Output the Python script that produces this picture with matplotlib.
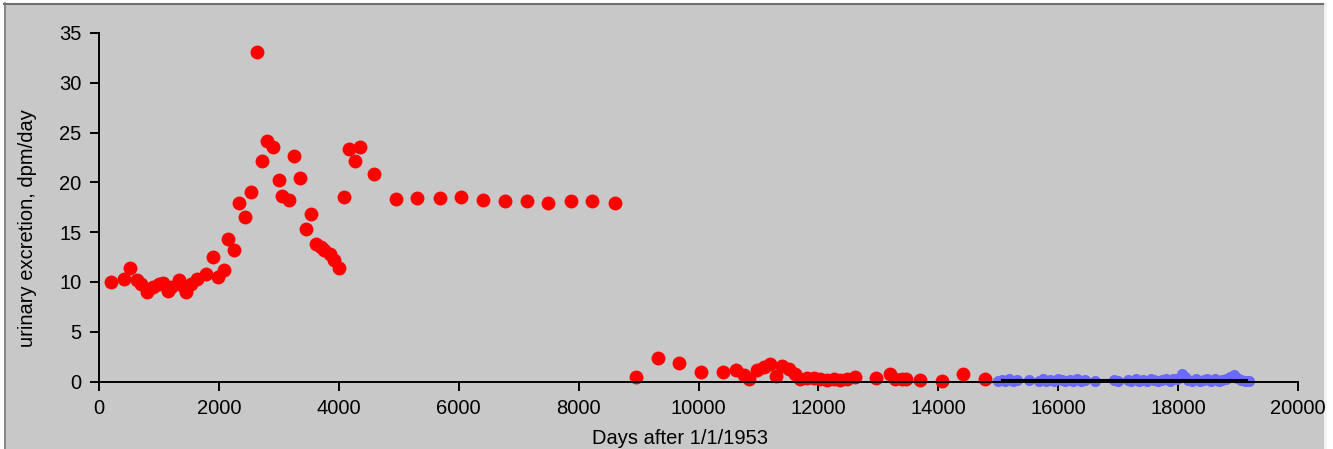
import matplotlib
matplotlib.use("Agg")
import matplotlib.pyplot as plt
from matplotlib.patches import Rectangle
from matplotlib.lines import Line2D

plt.rcParams['font.family'] = ['Liberation Sans', 'DejaVu Sans']

# red series: days after 1/1/1953, urinary excretion (dpm/day)
red_days = [200, 420, 520, 640, 700, 800, 900, 1000, 1060, 1150, 1200, 1340, 1400,
            1450, 1530, 1640, 1780, 1900, 1980, 2090, 2150, 2250, 2340, 2430, 2530,
            2630, 2720, 2810, 2900, 3000, 3060, 3170, 3255, 3355, 3450, 3530, 3620,
            3700, 3760, 3850, 3920, 4005, 4090, 4170, 4270, 4355, 4580,
            4950, 5310, 5680, 6045, 6410, 6770, 7145, 7495, 7865, 8230, 8600,
            8950, 9320, 9680, 10045, 10410, 10630, 10755, 10840, 10980, 11090,
            11200, 11285, 11395, 11505, 11615, 11700, 11810, 11920, 12035, 12145,
            12255, 12365, 12480, 12615, 12965, 13200, 13285, 13395, 13465, 13690,
            14060, 14420, 14785]
red_vals = [10.0, 10.3, 11.4, 10.2, 9.8, 9.0, 9.5, 9.8, 9.9, 9.1, 9.5, 10.2, 9.6,
            9.0, 9.8, 10.3, 10.8, 12.5, 10.5, 11.2, 14.3, 13.2, 17.9, 16.5, 19.0,
            33.1, 22.1, 24.2, 23.6, 20.2, 18.6, 18.2, 22.6, 20.4, 15.3, 16.8, 13.8,
            13.5, 13.2, 12.8, 12.2, 11.4, 18.5, 23.4, 22.1, 23.6, 20.8,
            18.3, 18.4, 18.4, 18.5, 18.2, 18.1, 18.1, 17.9, 18.1, 18.1, 17.9,
            0.5, 2.4, 1.9, 1.0, 1.0, 1.2, 0.7, 0.3, 1.2, 1.5,
            1.8, 0.6, 1.6, 1.3, 0.8, 0.3, 0.4, 0.4, 0.3, 0.2,
            0.3, 0.2, 0.3, 0.5, 0.4, 0.8, 0.3, 0.3, 0.3, 0.2,
            0.1, 0.8, 0.3]

# blue series
blue_days = [15000, 15060, 15120, 15180, 15250, 15320, 15520, 15680, 15740, 15800,
             15870, 15930, 16000, 16060, 16120, 16190, 16250, 16320, 16380, 16450,
             16620, 16930, 16990, 17160, 17220, 17290, 17350, 17410, 17480, 17540,
             17600, 17670, 17730, 17790, 17860, 17920, 17980, 18060, 18110, 18170,
             18240, 18300, 18360, 18430, 18490, 18550, 18620, 18680, 18740, 18800,
             18870, 18930, 18980, 19050, 19120, 19190]
blue_vals = [0.1, 0.2, 0.05, 0.25, 0.1, 0.2, 0.15, 0.05, 0.25, 0.1,
             0.2, 0.05, 0.25, 0.15, 0.05, 0.2, 0.1, 0.25, 0.05, 0.2,
             0.1, 0.15, 0.05, 0.2, 0.1, 0.25, 0.05, 0.2, 0.1, 0.25,
             0.15, 0.05, 0.2, 0.3, 0.1, 0.25, 0.3, 0.75, 0.45, 0.2,
             0.1, 0.25, 0.05, 0.2, 0.3, 0.1, 0.25, 0.05, 0.2, 0.3,
             0.45, 0.65, 0.4, 0.15, 0.1, 0.05]

# straight black line through the blue series
fit_days = [15060, 19150]
fit_vals = [0.15, 0.15]

W, H = 1333, 449
fig = plt.figure(figsize=(W / 100, H / 100), dpi=100, facecolor='white')

# gray panel with frame
fig.patches.append(Rectangle((4 / W, 0), (1324 - 4) / W, 1 - 3 / H,
                             transform=fig.transFigure, facecolor='#c8c8c8',
                             edgecolor='none', zorder=-10))
fig.lines.append(Line2D([4 / W, 1324 / W], [1 - 3.5 / H, 1 - 3.5 / H],
                        transform=fig.transFigure, color='#6e6e6e', lw=1.5, zorder=-5))
fig.lines.append(Line2D([4.5 / W, 4.5 / W], [0, 1 - 3 / H],
                        transform=fig.transFigure, color='#7a7a7a', lw=1.2, zorder=-5))
fig.lines.append(Line2D([1325 / W, 1325 / W], [0, 1 - 3 / H],
                        transform=fig.transFigure, color='#f2f2f2', lw=2, zorder=-5))

ax = fig.add_axes([99 / W, 1 - 381.5 / H, (1298 - 99) / W, (381.5 - 33) / H])
ax.set_facecolor('none')

ax.plot(red_days, red_vals, 'o', color='#ff0000', ms=10, mew=0, clip_on=False, zorder=2)
ax.plot(blue_days, blue_vals, 'o', color='#6a6aff', ms=8, mew=0, clip_on=False, zorder=2)
ax.plot(fit_days, fit_vals, '-', color='black', lw=1.5, zorder=3)

ax.set_xlim(0, 20000)
ax.set_ylim(0, 35)
ax.set_xticks(range(0, 20001, 2000))
ax.set_yticks(range(0, 36, 5))

for s in ['top', 'right']:
    ax.spines[s].set_visible(False)
for s in ['left', 'bottom']:
    ax.spines[s].set_linewidth(1.4)
    ax.spines[s].set_color('black')

ax.tick_params(direction='out', length=6.5, width=1.4, pad=6, labelsize=14.5, colors='black')

ax.set_xlabel('Days after 1/1/1953', fontsize=14.5)
ax.set_ylabel('urinary excretion, dpm/day', fontsize=14.5)
ax.xaxis.set_label_coords(0.4846, -0.136)
ax.yaxis.set_label_coords(-0.052, 0.44)

fig.savefig('out.png', dpi=100, facecolor=fig.get_facecolor())
